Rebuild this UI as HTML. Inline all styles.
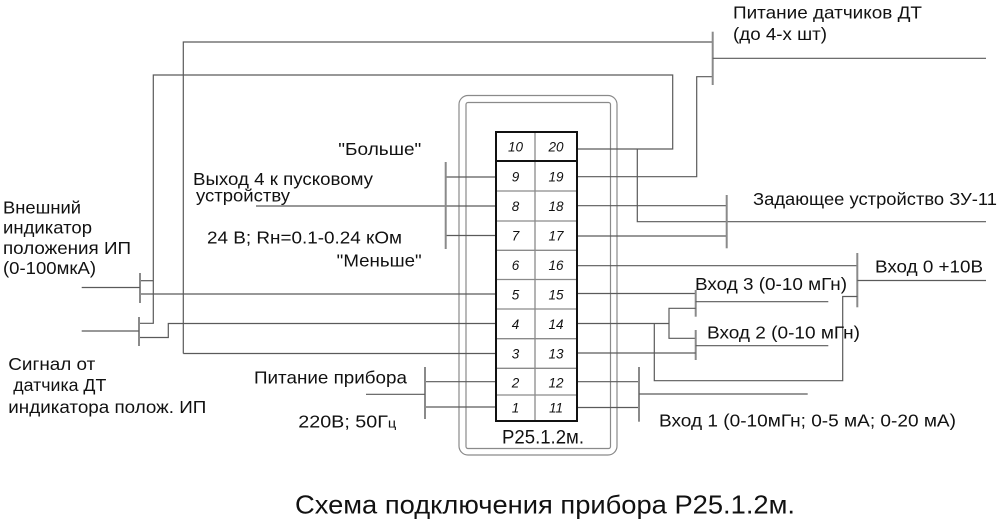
<!DOCTYPE html>
<html><head><meta charset="utf-8"><style>
html,body{margin:0;padding:0;background:#fff;}
svg{display:block;}
text{font-family:"Liberation Sans","DejaVu Sans",sans-serif;fill:#111;}
.w{stroke:#5a5a5a;stroke-width:1.2;fill:none;}
.b{stroke:#8a8a8a;stroke-width:2;fill:none;}
.g{stroke:#8a8a8a;stroke-width:1.2;fill:none;}
.n{font-style:italic;font-size:13.5px;text-anchor:middle;}
.l{font-size:17.5px;}
</style></head><body>
<svg width="1000" height="521" viewBox="0 0 1000 521" xmlns="http://www.w3.org/2000/svg">
<!-- housing -->
<rect x="459" y="95.5" width="158" height="359.5" rx="9" class="g" stroke-width="1.5"/>
<rect x="466" y="102.5" width="144.5" height="346" rx="2" class="g"/>

<!-- top lines -->
<polyline class="w" points="183.3,353.5 183.3,42 712.7,42"/>
<polyline class="w" points="140,323.3 153.3,323.3 153.3,75 672.7,75 672.7,149 577,149"/>
<line class="w" x1="140" y1="280.7" x2="153.3" y2="280.7"/>

<!-- left wires -->
<line class="w" x1="445.7" y1="177" x2="496" y2="177"/>
<line class="w" x1="256" y1="206" x2="496" y2="206"/>
<line class="w" x1="445.7" y1="235.5" x2="496" y2="235.5"/>
<line class="b" x1="445.7" y1="162" x2="445.7" y2="249"/>
<line class="w" x1="140" y1="294" x2="496" y2="294"/>
<polyline class="w" points="139,337.5 168.3,337.5 168.3,323.5 496,323.5"/>
<line class="w" x1="183.3" y1="353.5" x2="496" y2="353.5"/>
<line class="w" x1="425" y1="381.7" x2="496" y2="381.7"/>
<line class="w" x1="425" y1="407" x2="496" y2="407"/>
<line class="b" x1="425" y1="367" x2="425" y2="419"/>
<line class="w" x1="366" y1="394.3" x2="425" y2="394.3"/>
<line class="b" x1="140" y1="273" x2="140" y2="303"/>
<line class="b" x1="139" y1="317" x2="139" y2="346"/>
<line class="w" x1="81.7" y1="287.5" x2="140" y2="287.5"/>
<line class="w" x1="81.7" y1="331" x2="139" y2="331"/>

<!-- right wires -->
<polyline class="w" points="637.3,149 637.3,221.7 986,221.7"/>
<polyline class="w" points="577,176.7 696.7,176.7 696.7,76.7 712.7,76.7"/>
<line class="b" x1="712.7" y1="31.7" x2="712.7" y2="85"/>
<line class="w" x1="712.7" y1="58.3" x2="986" y2="58.3"/>
<line class="w" x1="577" y1="205.7" x2="726.7" y2="205.7"/>
<line class="w" x1="577" y1="236" x2="726.7" y2="236"/>
<line class="b" x1="726.7" y1="195" x2="726.7" y2="248.3"/>
<line class="w" x1="577" y1="265.7" x2="857.3" y2="265.7"/>
<line class="b" x1="857.3" y1="253" x2="857.3" y2="307.3"/>
<line class="w" x1="857.3" y1="280.5" x2="986" y2="280.5"/>
<line class="w" x1="577" y1="293.5" x2="695.7" y2="293.5"/>
<line class="b" x1="695.7" y1="290" x2="695.7" y2="316.7"/>
<line class="w" x1="695.7" y1="301.7" x2="828.3" y2="301.7"/>
<polyline class="w" points="695.7,308.3 669,308.3 669,338.3 695.7,338.3"/>
<line class="b" x1="695.7" y1="330" x2="695.7" y2="360"/>
<line class="w" x1="695.7" y1="345.7" x2="828.3" y2="345.7"/>
<line class="w" x1="577" y1="323.5" x2="669" y2="323.5"/>
<line class="w" x1="577" y1="353" x2="695.7" y2="353"/>
<polyline class="w" points="654.3,323.5 654.3,380.7 842.7,380.7 842.7,296.5 857.3,296.5"/>
<line class="w" x1="577" y1="381.7" x2="638.5" y2="381.7"/>
<line class="w" x1="577" y1="407.5" x2="638.5" y2="407.5"/>
<line class="b" x1="639" y1="367" x2="639" y2="421.7"/>
<line class="w" x1="639" y1="394" x2="807.7" y2="394"/>

<!-- terminal block -->
<rect x="496" y="132" width="81" height="289" fill="#fff" stroke="#111" stroke-width="2"/>
<line x1="535" y1="132" x2="535" y2="421" stroke="#8a8a8a" stroke-width="1.3"/>
<g stroke="#8a8a8a" stroke-width="1.3">
<line x1="496" y1="191" x2="577" y2="191"/>
<line x1="496" y1="221" x2="577" y2="221"/>
<line x1="496" y1="250.3" x2="577" y2="250.3"/>
<line x1="496" y1="279.5" x2="577" y2="279.5"/>
<line x1="496" y1="309" x2="577" y2="309"/>
<line x1="496" y1="338.7" x2="577" y2="338.7"/>
<line x1="496" y1="368.3" x2="577" y2="368.3"/>
<line x1="496" y1="395" x2="577" y2="395"/>
</g>
<line x1="496" y1="161" x2="577" y2="161" stroke="#111" stroke-width="2"/>
<rect x="496" y="132" width="81" height="289" fill="none" stroke="#111" stroke-width="2"/>

<g class="n">
<text x="515.5" y="151.5" class="n">10</text><text x="556" y="151.5" class="n">20</text>
<text x="515.5" y="181.3" class="n">9</text><text x="556" y="181.3" class="n">19</text>
<text x="515.5" y="211" class="n">8</text><text x="556" y="211" class="n">18</text>
<text x="515.5" y="240.5" class="n">7</text><text x="556" y="240.5" class="n">17</text>
<text x="515.5" y="270" class="n">6</text><text x="556" y="270" class="n">16</text>
<text x="515.5" y="299.3" class="n">5</text><text x="556" y="299.3" class="n">15</text>
<text x="515.5" y="329" class="n">4</text><text x="556" y="329" class="n">14</text>
<text x="515.5" y="358.3" class="n">3</text><text x="556" y="358.3" class="n">13</text>
<text x="515.5" y="387.3" class="n">2</text><text x="556" y="387.3" class="n">12</text>
<text x="515.5" y="412.7" class="n">1</text><text x="556" y="412.7" class="n">11</text>
</g>
<text x="502" y="443.3" font-size="19" textLength="82" lengthAdjust="spacingAndGlyphs">Р25.1.2м.</text>

<!-- labels -->
<text class="l" x="733" y="18.3" textLength="189" lengthAdjust="spacingAndGlyphs">Питание датчиков ДТ</text>
<text class="l" x="733" y="40" textLength="94" lengthAdjust="spacingAndGlyphs">(до 4-х шт)</text>
<text class="l" x="753" y="205" textLength="244" lengthAdjust="spacingAndGlyphs">Задающее устройство ЗУ-11</text>
<text class="l" x="875" y="272.3" textLength="108" lengthAdjust="spacingAndGlyphs">Вход 0 +10В</text>
<text class="l" x="695" y="290" textLength="152" lengthAdjust="spacingAndGlyphs">Вход 3 (0-10 мГн)</text>
<text class="l" x="707" y="338.3" textLength="153" lengthAdjust="spacingAndGlyphs">Вход 2 (0-10 мГн)</text>
<text class="l" x="659" y="426.7" textLength="297" lengthAdjust="spacingAndGlyphs">Вход 1 (0-10мГн; 0-5 мА; 0-20 мА)</text>

<text class="l" x="338.3" y="155" textLength="83" lengthAdjust="spacingAndGlyphs">"Больше"</text>
<text class="l" x="193" y="185" textLength="180" lengthAdjust="spacingAndGlyphs">Выход 4 к пусковому</text>
<text class="l" x="196" y="201.3" textLength="94" lengthAdjust="spacingAndGlyphs">устройству</text>
<text class="l" x="207" y="243.3" textLength="195" lengthAdjust="spacingAndGlyphs">24 В; Rн=0.1-0.24 кОм</text>
<text class="l" x="336.7" y="266.7" textLength="85" lengthAdjust="spacingAndGlyphs">"Меньше"</text>

<text class="l" x="3" y="213.3" textLength="78" lengthAdjust="spacingAndGlyphs">Внешний</text>
<text class="l" x="3" y="233.5" textLength="89" lengthAdjust="spacingAndGlyphs">индикатор</text>
<text class="l" x="3" y="254" textLength="128" lengthAdjust="spacingAndGlyphs">положения ИП</text>
<text class="l" x="3" y="274" textLength="93" lengthAdjust="spacingAndGlyphs">(0-100мкА)</text>

<text class="l" x="8.3" y="370" textLength="87" lengthAdjust="spacingAndGlyphs">Сигнал от</text>
<text class="l" x="13.3" y="391" textLength="93" lengthAdjust="spacingAndGlyphs">датчика ДТ</text>
<text class="l" x="8.3" y="413" textLength="198" lengthAdjust="spacingAndGlyphs">индикатора полож. ИП</text>

<text class="l" x="254" y="383.3" textLength="153" lengthAdjust="spacingAndGlyphs">Питание прибора</text>
<text class="l" x="298.3" y="427.7" textLength="98" lengthAdjust="spacingAndGlyphs">220В; 50Г<tspan font-size="13">ц</tspan></text>

<text x="295" y="513.3" font-size="26" textLength="500" lengthAdjust="spacingAndGlyphs">Схема подключения прибора Р25.1.2м.</text>
</svg>
</body></html>
